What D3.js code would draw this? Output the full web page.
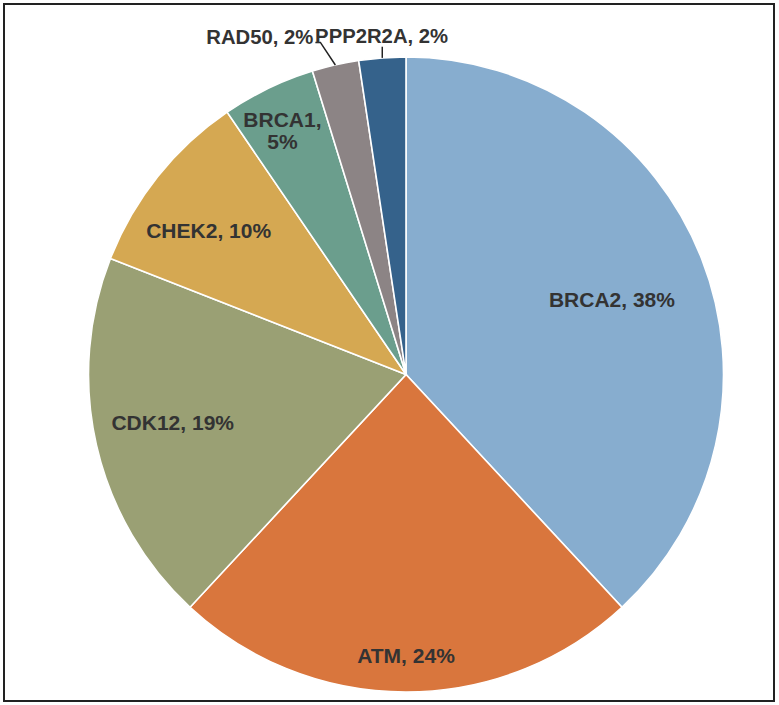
<html>
<head>
  <script src="https://d3js.org/d3.v7.min.js"></script>
  <style>
    body { margin: 0; background: #fff; }
    text { font-family: "Liberation Sans", Arial, sans-serif; font-weight: bold; fill: #333; }
  </style>
</head>
<body>
<script>
  // patients per gene (n = 42), clockwise from 12 o'clock
  const genes = ["BRCA2", "ATM", "CDK12", "CHEK2", "BRCA1", "RAD50", "PPP2R2A"];
  const counts = [16, 10, 8, 4, 2, 1, 1];
  const pctLabels = ["38%", "24%", "19%", "10%", "5%", "2%", "2%"];
  const colors = ["#87adcf", "#d9763d", "#9aa074", "#d5a852", "#6b9e8d", "#8c8485", "#35628b"];

  // label placement (fraction of radius, angular nudge in degrees)
  const labelRadius = [0.69, 0.885, 0.75, 0.77, 0.86, 1.08, 1.07];
  const labelShift = [1.5, 0, 1.3, -2.4, -1.2, -1.6, 0];

  const W = 779, H = 705;
  const cx = 406, cy = 374.5, R = 317.5;
  const fs = 21, fsOut = 20.3;

  var svg = d3.select("body").append("svg")
      .attr("width", W)
      .attr("height", H);

  svg.append("rect")
      .attr("x", 4).attr("y", 4)
      .attr("width", 770).attr("height", 697)
      .attr("fill", "none")
      .attr("stroke", "#222")
      .attr("stroke-width", 2);

  var g = svg.append("g").attr("transform", `translate(${cx},${cy})`);

  var pie = d3.pie().sort(null).value(d => d);
  var arcs = pie(counts);

  var arc = d3.arc().innerRadius(0).outerRadius(R);

  g.selectAll("path.slice")
    .data(arcs)
    .enter().append("path")
      .attr("class", "slice")
      .attr("d", arc)
      .attr("fill", (d, i) => colors[i])
      .attr("stroke", "#fff")
      .attr("stroke-width", 1.6);

  const polar = (ang, rho) => [rho * Math.sin(ang), -rho * Math.cos(ang)];

  arcs.forEach(function (d, i) {
    var mid = (d.startAngle + d.endAngle) / 2;
    var ang = mid + labelShift[i] * Math.PI / 180;
    var p = polar(ang, labelRadius[i] * R);

    if (labelRadius[i] > 1) {
      // small slices: label outside with a leader line
      var edge = polar(mid, R);
      var txt = genes[i] + ", " + pctLabels[i];
      if (i === genes.length - 1) {
        g.append("path")
          .attr("d", d3.line()([edge, [edge[0], p[1] + 11]]))
          .attr("stroke", "#222").attr("stroke-width", 1.5).attr("fill", "none");
        g.append("text")
          .attr("x", p[0] + 1).attr("y", p[1])
          .attr("dy", "0.35em")
          .attr("text-anchor", "middle")
          .attr("font-size", fsOut)
          .text(txt);
      } else {
        g.append("path")
          .attr("d", d3.line()([edge, p, [p[0] - 5, p[1]]]))
          .attr("stroke", "#222").attr("stroke-width", 1.5).attr("fill", "none");
        g.append("text")
          .attr("x", p[0] - 7).attr("y", p[1] - 6)
          .attr("dy", "0.35em")
          .attr("text-anchor", "end")
          .attr("font-size", fsOut)
          .text(txt);
      }
    } else if (genes[i] === "BRCA1") {
      var t = g.append("text")
        .attr("text-anchor", "middle")
        .attr("font-size", fs);
      t.append("tspan").attr("x", p[0]).attr("y", p[1] - 11).attr("dy", "0.35em").text(genes[i] + ",");
      t.append("tspan").attr("x", p[0]).attr("y", p[1] + 11).attr("dy", "0.35em").text(pctLabels[i]);
    } else {
      g.append("text")
        .attr("x", p[0]).attr("y", p[1])
        .attr("dy", "0.35em")
        .attr("text-anchor", "middle")
        .attr("font-size", fs)
        .text(genes[i] + ", " + pctLabels[i]);
    }
  });
</script>
</body>
</html>
